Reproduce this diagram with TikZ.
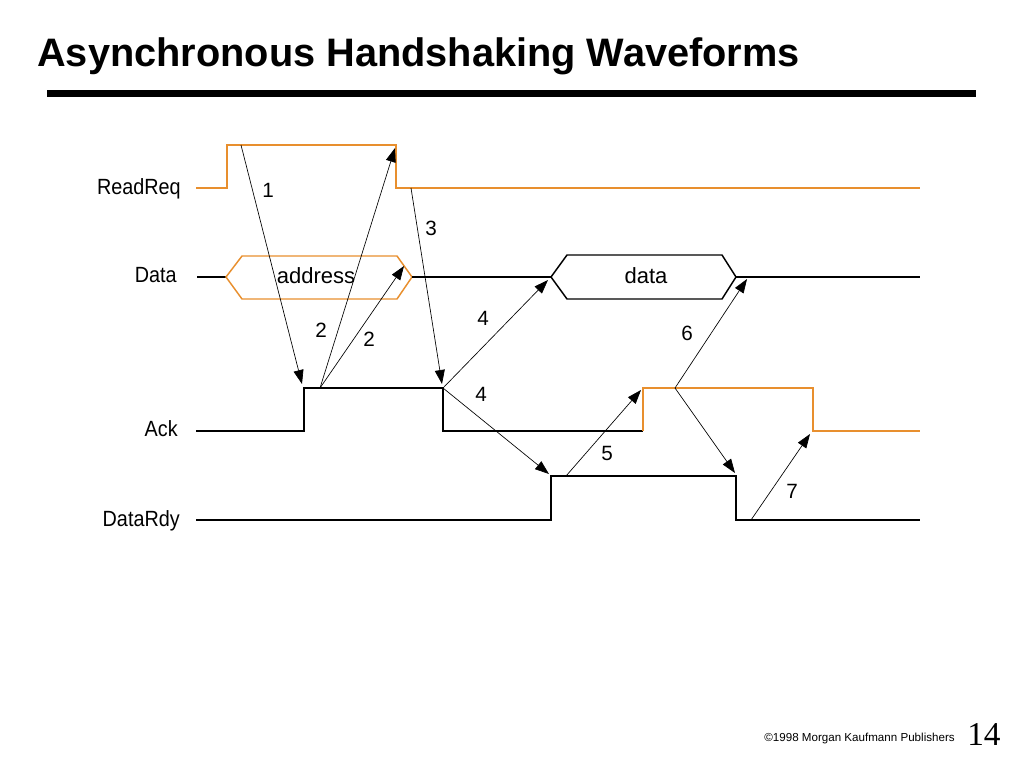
\documentclass[tikz,border=0pt]{standalone}
\usepackage{fontspec}
\setmainfont{Liberation Sans}
\newfontfamily\pagenumfont{Liberation Serif}
\newfontfamily\narrowfont[FakeStretch=0.9]{Liberation Sans}
\usetikzlibrary{arrows.meta, positioning, calc}
\definecolor{sigorange}{RGB}{232,143,46}
\tikzset{
  wave/.style={line width=1.1pt, line join=miter},
  reqwave/.style={wave, draw=sigorange},
  datawave/.style={wave, draw=black},
  hsarrow/.style={-{Triangle[length=10.5pt, width=7.5pt]}, line width=0.5pt},
  siglabel/.style={anchor=base east, inner sep=0pt, font=\narrowfont\fontsize{16.5}{19}\selectfont},
  steplabel/.style={inner sep=0pt, font=\fontsize{15.5}{18}\selectfont}
}

\begin{document}
\begin{tikzpicture}[x=0.75pt, y=-0.75pt,
    busval/.style={anchor=base, inner sep=0pt, font=\fontsize{16.5}{19}\selectfont}
    ]
    \useasboundingbox (0,0) rectangle (1024,768);
    \node[anchor=base west, inner sep=0pt, font=\bfseries\fontsize{29.8}{34}\selectfont] (title) at (37,66.7) {Asynchronous Handshaking Waveforms};
    \fill (47,89.5) rectangle (976,96.5);

    \node[siglabel] (readreq) at (181,194.5) {ReadReq};
    \node[siglabel] (data) at (177,282.5) {Data};
    \node[siglabel] (ack) at (178,436) {Ack};
    \node[siglabel] (datardy) at (180,526) {DataRdy};

    \draw[reqwave] (196,188) -- (227,188) -- (227,145) -- (396,145) -- (396,188) -- (920,188);
    \draw[datawave] (197,277) -- (226,277);
    \draw[reqwave] (226,277) -- (242,256) -- (397,256) -- (412,277) -- (397,299) -- (242,299) -- cycle;
    \draw[datawave] (412,277) -- (551,277);
    \draw[datawave] (551,277) -- (567,255) -- (722,255) -- (736,277) -- (722,299) -- (567,299) -- cycle;
    \draw[datawave] (736,277) -- (920,277);
    \draw[datawave] (196,431) -- (304,431) -- (304,388) -- (443,388) -- (443,431) -- (643,431);
    \draw[reqwave] (643,431) -- (643,388) -- (813,388) -- (813,431) -- (920,431);
    \draw[datawave] (196,520) -- (551,520) -- (551,476) -- (736,476) -- (736,520) -- (920,520);

    \node[busval] (addr) at (316,283) {address};
    \node[busval] (dval) at (646,283) {data};

    \coordinate (req up) at (241,145);
    \coordinate (req fall) at (395,148);
    \coordinate (req low) at (411,188);
    \coordinate (addr end) at (404,266);
    \coordinate (data start) at (548,280);
    \coordinate (data end) at (747,279);
    \coordinate (ack rise) at (302,384);
    \coordinate (ack hi) at (320,388);
    \coordinate (ack fall) at (442,384);
    \coordinate (ack lo) at (443,388);
    \coordinate (ack rise2) at (641,390);
    \coordinate (ack hi2) at (675,388);
    \coordinate (ack fall2) at (810,434);
    \coordinate (rdy rise) at (549,474);
    \coordinate (rdy hi) at (566,476);
    \coordinate (rdy fall) at (735,473);
    \coordinate (rdy lo) at (751,520);

    \draw[hsarrow] (req up) -- (ack rise);
    \draw[hsarrow] (ack hi) -- (req fall);
    \draw[hsarrow] (ack hi) -- (addr end);
    \draw[hsarrow] (req low) -- (ack fall);
    \draw[hsarrow] (ack lo) -- (data start);
    \draw[hsarrow] (ack lo) -- (rdy rise);
    \draw[hsarrow] (rdy hi) -- (ack rise2);
    \draw[hsarrow] (ack hi2) -- (data end);
    \draw[hsarrow] (ack hi2) -- (rdy fall);
    \draw[hsarrow] (rdy lo) -- (ack fall2);

    \node[steplabel] (s1) at (268,190) {1};
    \node[steplabel] (s2a) at (321,330) {2};
    \node[steplabel] (s2b) at (369,339) {2};
    \node[steplabel] (s3) at (431,228) {3};
    \node[steplabel] (s4a) at (483,318) {4};
    \node[steplabel] (s4b) at (481,394) {4};
    \node[steplabel] (s5) at (607,453) {5};
    \node[steplabel] (s6) at (687,333) {6};
    \node[steplabel] (s7) at (792,491) {7};

    \node[anchor=base east, inner sep=0pt, font=\fontsize{8.7}{11}\selectfont] (credit) at (955,741) {\textcopyright1998 Morgan Kaufmann Publishers};
    \node[anchor=base west, inner sep=0pt, font=\pagenumfont\fontsize{25}{30}\selectfont] (pagenum) at (967,745) {14};
\end{tikzpicture}
\end{document}
